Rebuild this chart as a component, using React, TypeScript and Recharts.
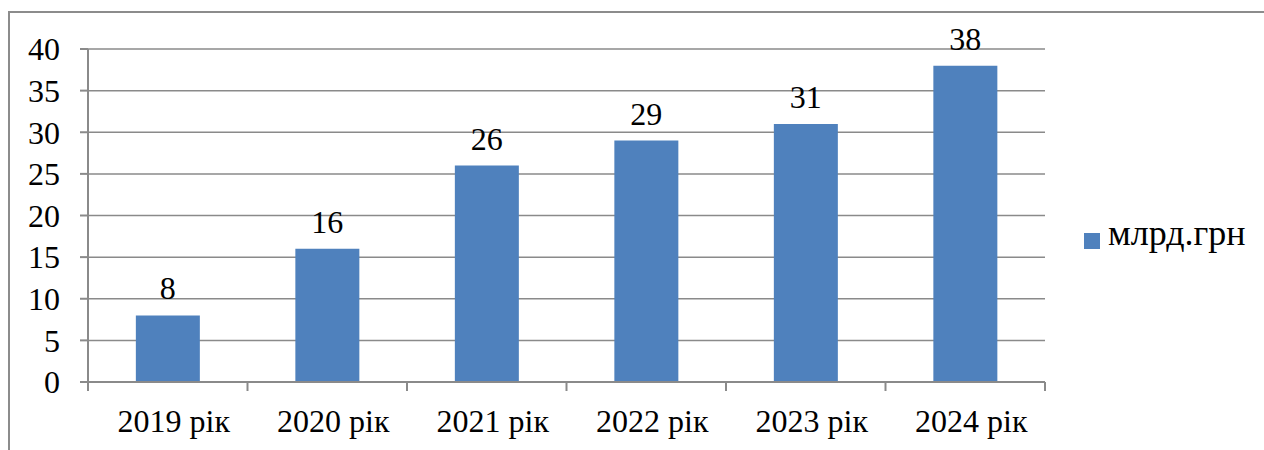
import { BarChart, Bar, XAxis, YAxis, CartesianGrid, Legend, LabelList } from "recharts";

const YEARS = ["2019 рік", "2020 рік", "2021 рік", "2022 рік", "2023 рік", "2024 рік"];
const VALUES = [8, 16, 26, 29, 31, 38];
const Y_TICKS = [0, 5, 10, 15, 20, 25, 30, 35, 40];
const SERIES_NAME = "млрд.грн";

const W = 1264;
const H = 450;
const MARGIN = { top: 49, right: 219, bottom: 0, left: 0 };
const X_HEIGHT = 68;
const Y_WIDTH = 88;
const GRID = "#8a8a8a";
const FONT = "'Liberation Serif', 'Times New Roman', serif";

const data = YEARS.map((year, i) => ({ year, value: VALUES[i] }));
const band = (W - MARGIN.left - MARGIN.right - Y_WIDTH) / YEARS.length;

// category axis with ticks on the boundaries between columns, like Excel
function YearTick(props: any) {
  const { x, y, payload, index } = props;
  const axisY = y - 30;
  const last = index === YEARS.length - 1;
  return (
    <g>
      <line x1={x - band / 2} x2={x - band / 2} y1={axisY} y2={axisY + 9} stroke={GRID} strokeWidth={2} />
      {last && (
        <line x1={x + band / 2} x2={x + band / 2} y1={axisY} y2={axisY + 9} stroke={GRID} strokeWidth={2} />
      )}
      <text x={x + 6} y={y + 20} textAnchor="middle" fill="#000" fontSize={32} fontFamily={FONT}>
        {payload.value}
      </text>
    </g>
  );
}

export default function App() {
  return (
    <div style={{ position: "fixed", left: 0, top: 0, width: W, height: H, overflow: "hidden", background: "#fff" }}>
      <div
        style={{
          position: "absolute", left: 8, top: 11, width: 1290, height: 480,
          border: "2px solid #8c8c8c", boxSizing: "border-box",
        }}
      />
      <div style={{ position: "absolute", left: 0, top: 0 }}>
        <BarChart width={W} height={H} data={data} margin={MARGIN} barCategoryGap="30%">
          <CartesianGrid vertical={false} stroke={GRID} strokeWidth={1.5} />
          <XAxis
            dataKey="year"
            axisLine={{ stroke: GRID, strokeWidth: 2 }}
            tickLine={false}
            tickSize={8}
            tickMargin={22}
            tick={<YearTick />}
            interval={0}
            height={X_HEIGHT}
          />
          <YAxis
            domain={[0, 40]}
            ticks={Y_TICKS}
            interval={0}
            width={Y_WIDTH}
            axisLine={{ stroke: GRID, strokeWidth: 2 }}
            tickLine={{ stroke: GRID, strokeWidth: 2 }}
            tickSize={8}
            tickMargin={20}
            tick={{ fill: "#000", fontSize: 32, fontFamily: FONT }}
          />
          <Legend
            layout="horizontal"
            verticalAlign="middle"
            align="center"
            iconType="square"
            iconSize={16}
            wrapperStyle={{ left: 1084, top: 212, width: "auto" }}
            formatter={(v) => (
              <span style={{ color: "#000", fontSize: 36, fontFamily: FONT, marginLeft: 4 }}>{v}</span>
            )}
          />
          <Bar dataKey="value" name={SERIES_NAME} fill="#4f81bd" isAnimationActive={false}>
            <LabelList dataKey="value" position="top" offset={16} fill="#000" fontSize={32} fontFamily={FONT} />
          </Bar>
        </BarChart>
      </div>
    </div>
  );
}
